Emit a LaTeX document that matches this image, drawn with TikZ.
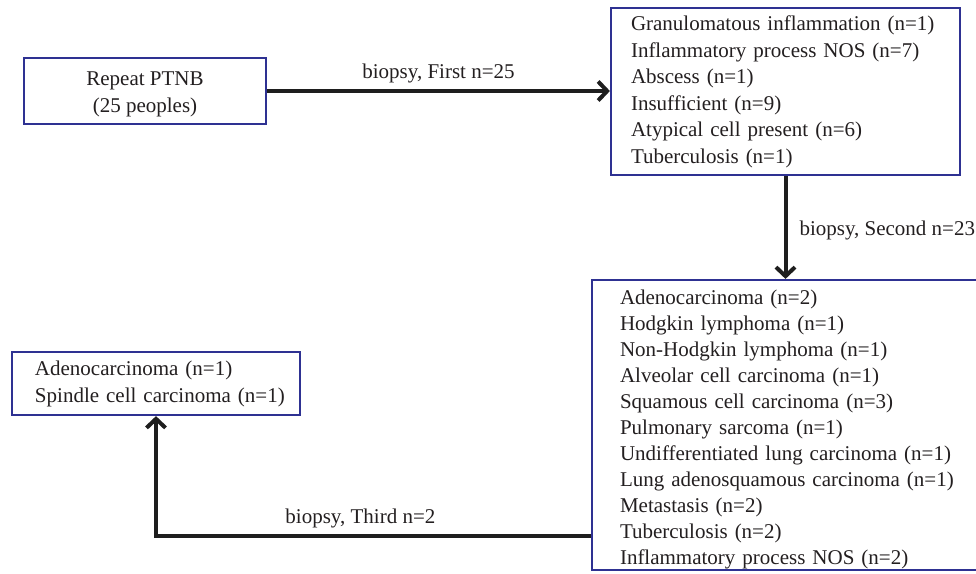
\documentclass[tikz,border=0pt]{standalone}
\usepackage{fontspec}
\setmainfont{Liberation Serif}
\usetikzlibrary{arrows.meta}
\definecolor{boxblue}{RGB}{46,49,146}
\definecolor{arrowblack}{RGB}{30,30,30}
\definecolor{textgray}{RGB}{35,31,32}
\newcommand\padlines[3]{\raisebox{-#2}[\height][\depth]{\begin{tabular}{@{\hspace{#1}}l@{}}#3\end{tabular}}}
\begin{document}
\begin{tikzpicture}[x=1pt, y=-1pt,
  font=\fontsize{21}{26.5}\selectfont, text=textgray,
  box/.style={draw=boxblue, line width=2.2pt, fill=white, inner sep=0pt},
  listbox/.style={box, align=left},
  flow/.style={draw=arrowblack, line width=4pt, -{Straight Barb[length=9pt,width=19pt]}},
  flowlabel/.style={inner sep=2pt}]
\useasboundingbox (0,0) rectangle (976,573);

\node[box, align=center, minimum width=242pt, minimum height=66pt] (A) at (145,91)
  {\rule{0pt}{20.55pt}Repeat PTNB\\(25 peoples)};

\node[listbox, text width=349pt, minimum height=167pt] (B) at (785.5,91.5)
  {\padlines{20pt}{0pt}{Granulomatous inflammation (n=1)\\
   Inflammatory process NOS (n=7)\\
   Abscess (n=1)\\
   Insufficient (n=9)\\
   Atypical cell present (n=6)\\
   Tuberculosis (n=1)}};

\node[listbox, font=\fontsize{21}{26}\selectfont, text width=398pt, minimum height=290pt] (C) at (791,425)
  {\padlines{28pt}{4.5pt}{Adenocarcinoma (n=2)\\
   Hodgkin lymphoma (n=1)\\
   Non-Hodgkin lymphoma (n=1)\\
   Alveolar cell carcinoma (n=1)\\
   Squamous cell carcinoma (n=3)\\
   Pulmonary sarcoma (n=1)\\
   Undifferentiated lung carcinoma (n=1)\\
   Lung adenosquamous carcinoma (n=1)\\
   Metastasis (n=2)\\
   Tuberculosis (n=2)\\
   Inflammatory process NOS (n=2)}};

\node[listbox, text width=288pt, minimum height=63pt] (D) at (156,383.5)
  {\padlines{23pt}{0pt}{Adenocarcinoma (n=1)\\
   Spindle cell carcinoma (n=1)}};

\coordinate (turn) at (156,536);

\draw[flow] (A.east) -- (A.east -| B.west)
  node[flowlabel, midway, above=4pt] {biopsy, First n=25};
\draw[flow] (B.south) -- (B.south |- C.north)
  node[flowlabel, midway, right=10pt, yshift=-3pt] {biopsy, Second n=23};
\draw[flow] (C.west |- turn) -- node[flowlabel, pos=0.53, above=4pt] {biopsy, Third n=2} (turn) -- (D.south);
\end{tikzpicture}
\end{document}
